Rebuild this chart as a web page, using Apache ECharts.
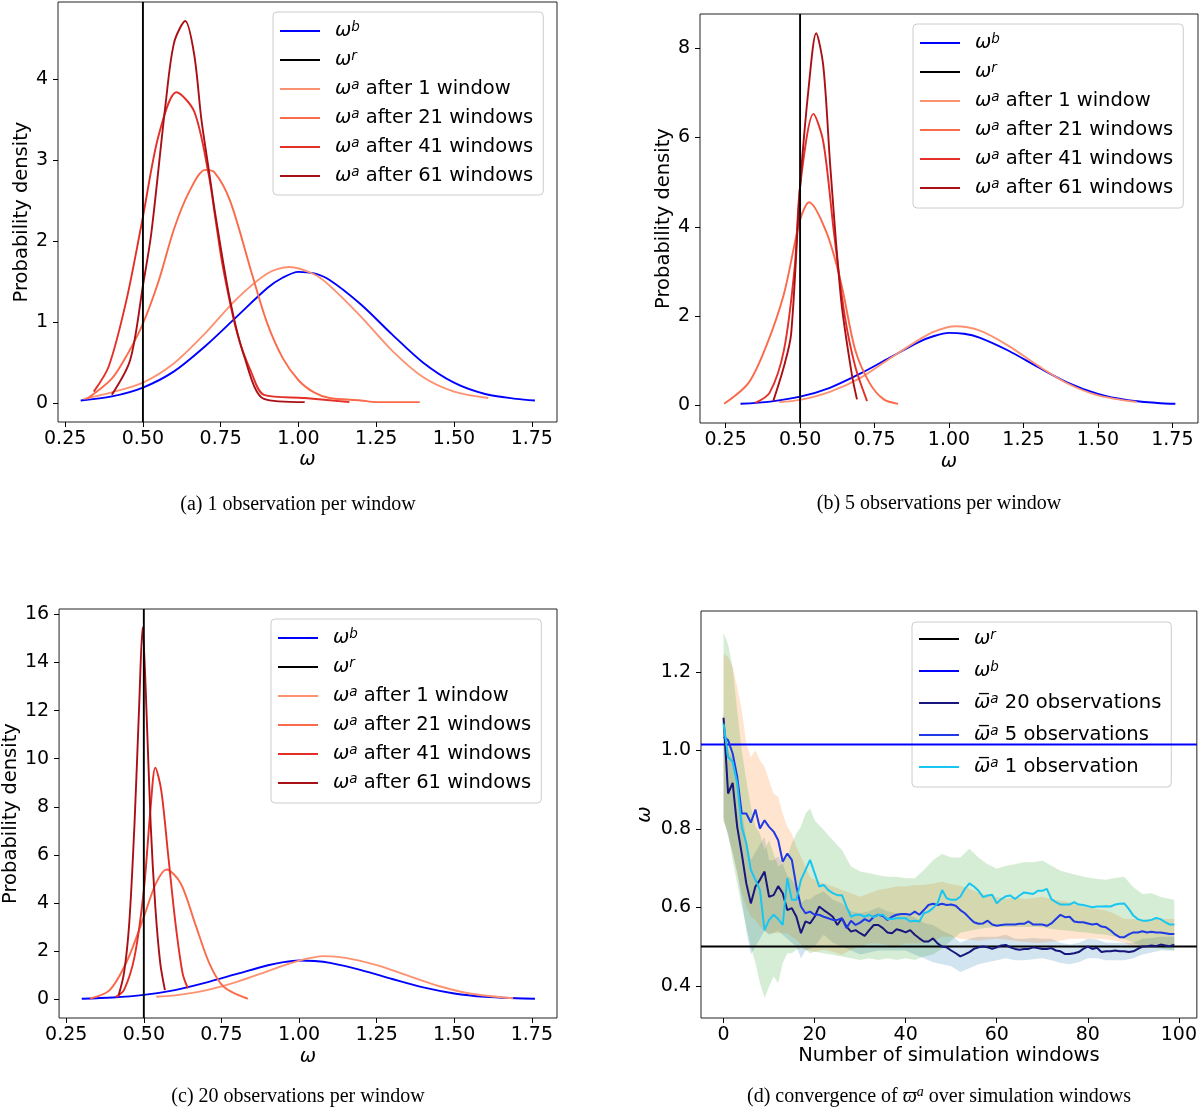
<!DOCTYPE html>
<html>
<head>
<meta charset="utf-8">
<script src="https://cdn.jsdelivr.net/npm/echarts@6/dist/echarts.min.js"></script>
<style>
  html, body { margin: 0; background: #fff; }
  #fig { width: 1200px; height: 1109px; }
</style>
</head>
<body>
<div id="fig"></div>
<script>
// values

const omegaRef = 0.5;      // true omega
const omegaPrior = 1.015;  // prior mean

// prior density (same in a, b, c)
const priorX = [0.30, 0.40, 0.50, 0.60, 0.70, 0.80, 0.90, 0.95, 1.00, 1.05, 1.10, 1.20, 1.30, 1.40, 1.50, 1.60, 1.70, 1.76];
const priorY = [0.03, 0.08, 0.19, 0.39, 0.70, 1.06, 1.42, 1.55, 1.62, 1.60, 1.52, 1.22, 0.85, 0.50, 0.25, 0.11, 0.05, 0.03];

// (a) 1 observation per window
const a1X  = [0.31, 0.40, 0.50, 0.60, 0.70, 0.80, 0.90, 0.97, 1.05, 1.10, 1.20, 1.30, 1.40, 1.50, 1.61];
const a1Y  = [0.05, 0.13, 0.25, 0.49, 0.86, 1.28, 1.60, 1.68, 1.59, 1.45, 1.07, 0.65, 0.32, 0.14, 0.06];
const a21X = [0.32, 0.40, 0.45, 0.50, 0.55, 0.60, 0.65, 0.70, 0.73, 0.78, 0.85, 0.90, 0.95, 1.00, 1.05, 1.10, 1.20, 1.25, 1.39];
const a21Y = [0.05, 0.30, 0.60, 0.98, 1.50, 2.15, 2.62, 2.88, 2.85, 2.50, 1.60, 0.98, 0.55, 0.28, 0.13, 0.06, 0.03, 0.01, 0.01];
const a41X = [0.342, 0.39, 0.447, 0.50, 0.55, 0.608, 0.665, 0.711, 0.734, 0.757, 0.803, 0.849, 0.889, 1.02, 1.164];
const a41Y = [0.14, 0.45, 1.27, 2.30, 3.30, 3.84, 3.60, 2.83, 2.25, 1.68, 0.86, 0.37, 0.10, 0.06, 0.01];
const a61X = [0.40, 0.459, 0.50, 0.527, 0.573, 0.60, 0.636, 0.665, 0.688, 0.711, 0.734, 0.78, 0.826, 0.889, 1.02];
const a61Y = [0.10, 0.53, 1.45, 2.10, 3.70, 4.45, 4.72, 4.30, 3.50, 2.90, 2.30, 1.27, 0.57, 0.05, 0.01];

// (b) 5 observations per window
const b1X  = [0.43, 0.50, 0.60, 0.70, 0.80, 0.90, 0.95, 1.02, 1.10, 1.20, 1.30, 1.40, 1.50, 1.63];
const b1Y  = [0.07, 0.12, 0.30, 0.60, 1.04, 1.47, 1.65, 1.77, 1.68, 1.33, 0.88, 0.48, 0.22, 0.07];
const b21X = [0.245, 0.327, 0.386, 0.446, 0.50, 0.53, 0.59, 0.638, 0.685, 0.733, 0.781, 0.829];
const b21Y = [0.03, 0.50, 1.32, 2.50, 4.15, 4.55, 3.85, 2.73, 1.24, 0.50, 0.13, 0.03];
const b41X = [0.35, 0.398, 0.446, 0.482, 0.50, 0.545, 0.578, 0.614, 0.65, 0.685, 0.725];
const b41Y = [0.05, 0.28, 1.24, 3.10, 4.90, 6.53, 5.90, 3.85, 2.00, 0.87, 0.09];
const b61X = [0.41, 0.446, 0.47, 0.50, 0.53, 0.554, 0.578, 0.602, 0.638, 0.673, 0.691];
const b61Y = [0.09, 0.87, 1.60, 4.90, 7.20, 8.34, 7.60, 5.30, 2.35, 0.72, 0.13];

// (c) 20 observations per window
const c1X  = [0.54, 0.60, 0.70, 0.80, 0.90, 1.00, 1.08, 1.15, 1.25, 1.35, 1.45, 1.55, 1.69];
const c1Y  = [0.11, 0.17, 0.38, 0.73, 1.18, 1.61, 1.80, 1.73, 1.43, 0.99, 0.56, 0.25, 0.05];
const c21X = [0.327, 0.39, 0.447, 0.50, 0.539, 0.573, 0.619, 0.665, 0.711, 0.757, 0.835];
const c21Y = [0.04, 0.39, 1.63, 3.43, 4.82, 5.40, 4.82, 3.16, 1.50, 0.53, 0.03];
const c41X = [0.41, 0.436, 0.47, 0.50, 0.522, 0.537, 0.556, 0.579, 0.602, 0.625, 0.642];
const c41Y = [0.11, 0.39, 1.77, 4.54, 8.00, 9.63, 8.70, 5.93, 3.16, 1.08, 0.46];
const c61X = [0.419, 0.436, 0.453, 0.47, 0.485, 0.496, 0.506, 0.522, 0.537, 0.553, 0.568];
const c61Y = [0.18, 1.08, 3.16, 7.30, 12.2, 15.45, 12.9, 7.30, 3.85, 1.50, 0.39];

// (d) mean analysis omega per window (windows 0..99)
const mean20 = [1.083,0.89,0.917,0.805,0.737,0.661,0.61,0.653,0.67,0.691,
  0.627,0.631,0.654,0.636,0.593,0.598,0.576,0.534,0.564,0.559,
  0.576,0.602,0.593,0.585,0.576,0.555,0.572,0.551,0.538,0.542,
  0.534,0.527,0.542,0.555,0.555,0.547,0.536,0.534,0.544,0.541,
  0.536,0.542,0.53,0.521,0.513,0.513,0.521,0.508,0.50,0.498,
  0.49,0.483,0.475,0.48,0.486,0.494,0.498,0.50,0.498,0.494,
  0.498,0.503,0.504,0.498,0.494,0.492,0.494,0.494,0.498,0.496,
  0.494,0.494,0.496,0.49,0.488,0.481,0.481,0.483,0.486,0.494,
  0.50,0.494,0.497,0.486,0.488,0.488,0.49,0.488,0.488,0.486,
  0.488,0.494,0.50,0.501,0.503,0.501,0.505,0.503,0.501,0.505];
const mean5 = [1.034,1.026,0.992,0.933,0.839,0.839,0.816,0.849,0.801,0.822,
  0.805,0.793,0.771,0.716,0.737,0.721,0.653,0.602,0.585,0.589,
  0.581,0.581,0.576,0.572,0.568,0.568,0.572,0.547,0.566,0.555,
  0.561,0.57,0.564,0.576,0.581,0.578,0.568,0.576,0.581,0.583,
  0.583,0.581,0.589,0.581,0.593,0.606,0.609,0.606,0.609,0.606,
  0.607,0.604,0.593,0.585,0.573,0.562,0.558,0.559,0.566,0.556,
  0.553,0.555,0.556,0.556,0.556,0.558,0.558,0.564,0.556,0.556,
  0.556,0.553,0.559,0.57,0.581,0.575,0.576,0.564,0.562,0.562,
  0.559,0.556,0.558,0.551,0.549,0.541,0.531,0.524,0.524,0.531,
  0.536,0.536,0.539,0.536,0.538,0.536,0.536,0.534,0.532,0.532];
const mean1 = [1.068,0.983,0.971,0.916,0.805,0.763,0.695,0.67,0.644,0.542,
  0.568,0.581,0.57,0.555,0.674,0.619,0.619,0.67,0.695,0.721,
  0.687,0.653,0.657,0.644,0.636,0.631,0.631,0.602,0.576,0.581,
  0.581,0.576,0.581,0.575,0.581,0.581,0.57,0.57,0.572,0.572,
  0.572,0.564,0.566,0.564,0.585,0.589,0.598,0.61,0.644,0.623,
  0.619,0.619,0.627,0.647,0.661,0.653,0.642,0.626,0.63,0.632,
  0.61,0.621,0.628,0.63,0.621,0.63,0.638,0.636,0.634,0.642,
  0.642,0.647,0.621,0.613,0.607,0.607,0.607,0.613,0.607,0.606,
  0.603,0.60,0.602,0.602,0.603,0.602,0.607,0.609,0.61,0.596,
  0.579,0.57,0.566,0.566,0.568,0.573,0.57,0.562,0.556,0.556];

// (d) spread bands
const bandX = [0,1,2,3,4,5,6,7,8,9,10,11,12,13,14,15,16,17,18,19,
  20,22,24,26,28,30,32,34,36,38,40,42,44,46,
  48,50,52,54,56,58,60,62,64,66,68,70,72,74,76,78,80,82,84,86,88,90,92,94,96,99];
const band1Hi = [1.30,1.27,1.21,1.10,1.00,0.924,0.856,0.805,0.788,0.746,0.771,0.737,0.704,0.712,0.729,0.763,0.788,0.805,0.839,0.852,
  0.822,0.797,0.771,0.746,0.704,0.691,0.687,0.682,0.678,0.678,0.674,0.674,0.695,0.72,
  0.736,0.727,0.727,0.749,0.727,0.71,0.698,0.706,0.71,0.715,0.715,0.719,0.706,0.693,0.687,0.681,0.676,0.672,0.67,0.675,0.678,0.651,0.634,0.636,0.626,0.619];
const band1Lo = [0.82,0.788,0.72,0.661,0.602,0.551,0.50,0.458,0.407,0.369,0.398,0.424,0.407,0.458,0.483,0.483,0.492,0.496,0.492,0.483,
  0.487,0.483,0.479,0.475,0.47,0.466,0.47,0.466,0.47,0.466,0.47,0.466,0.475,0.48,
  0.495,0.515,0.535,0.54,0.545,0.548,0.55,0.55,0.55,0.55,0.55,0.55,0.545,0.542,0.54,0.537,0.535,0.532,0.53,0.525,0.52,0.51,0.5,0.497,0.495,0.49];
const band5Hi = [1.246,1.238,1.212,1.162,1.102,1.017,0.983,1.0,0.975,0.958,0.924,0.89,0.882,0.839,0.805,0.788,0.754,0.729,0.704,0.678,
  0.67,0.661,0.653,0.644,0.636,0.627,0.636,0.644,0.648,0.653,0.653,0.657,0.657,0.661,
  0.665,0.659,0.655,0.647,0.638,0.63,0.626,0.621,0.626,0.621,0.624,0.627,0.621,0.617,0.613,0.604,0.6,0.596,0.592,0.583,0.57,0.57,0.568,0.57,0.57,0.57];
const band5Lo = [0.822,0.788,0.737,0.687,0.636,0.602,0.576,0.568,0.551,0.54,0.534,0.534,0.534,0.534,0.534,0.525,0.517,0.505,0.492,0.49,
  0.487,0.492,0.487,0.479,0.492,0.5,0.508,0.508,0.504,0.5,0.508,0.508,0.508,0.513,
  0.525,0.525,0.52,0.518,0.515,0.518,0.52,0.518,0.515,0.512,0.51,0.51,0.513,0.515,0.52,0.52,0.52,0.52,0.518,0.515,0.51,0.5,0.495,0.498,0.5,0.5];
const band20Hi = [1.10,1.0,0.98,0.92,0.85,0.77,0.72,0.74,0.76,0.78,0.72,0.72,0.73,0.71,0.68,0.67,0.65,0.61,0.62,0.62,
  0.63,0.64,0.62,0.61,0.59,0.585,0.59,0.6,0.59,0.585,0.58,0.575,0.56,0.555,
  0.54,0.53,0.51,0.52,0.525,0.525,0.525,0.53,0.52,0.52,0.522,0.52,0.52,0.51,0.505,0.51,0.52,0.518,0.51,0.51,0.51,0.51,0.52,0.522,0.525,0.525];
const band20Lo = [0.83,0.78,0.74,0.69,0.62,0.54,0.48,0.50,0.52,0.54,0.53,0.535,0.54,0.53,0.52,0.51,0.50,0.47,0.49,0.495,
  0.50,0.53,0.51,0.50,0.49,0.48,0.485,0.49,0.49,0.49,0.49,0.48,0.47,0.46,
  0.455,0.45,0.435,0.445,0.455,0.46,0.465,0.47,0.465,0.465,0.468,0.47,0.465,0.458,0.455,0.46,0.47,0.47,0.465,0.465,0.465,0.47,0.48,0.485,0.49,0.49];

// tick values
const omegaTicks = [0.25, 0.50, 0.75, 1.00, 1.25, 1.50, 1.75];
const densTicksA = [0, 1, 2, 3, 4];
const densTicksB = [0, 2, 4, 6, 8];
const densTicksC = [0, 2, 4, 6, 8, 10, 12, 14, 16];
const windowTicks = [0, 20, 40, 60, 80, 100];
const omegaTicksD = [0.4, 0.6, 0.8, 1.0, 1.2];

// ---------------------------------------------------------------

const COL = {
  wb: '#0000ff', wr: '#000000',
  a1: '#fc9272', a21: '#fb6a4a', a41: '#e32f27', a61: '#a91016',
  m20: '#16167c', m5: '#1f3ae4', m1: '#18c6f2'
};

const LABEL = {
  wb: '{w|ω}{s|b}',
  wr: '{w|ω}{s|r}',
  a1: '{w|ω}{s|a}{t| after 1 window}',
  a21: '{w|ω}{s|a}{t| after 21 windows}',
  a41: '{w|ω}{s|a}{t| after 41 windows}',
  a61: '{w|ω}{s|a}{t| after 61 windows}',
  m20: '{w|ω\u0305}{s|a}{t| 20 observations}',
  m5: '{w|ω\u0305}{s|a}{t| 5 observations}',
  m1: '{w|ω\u0305}{s|a}{t| 1 observation}'
};

const FONT = 'DejaVu Sans';
const FS = 19.5;
const LW = 1.9;
const RICH = {
  w: { fontFamily: FONT, fontStyle: 'italic', fontSize: FS, lineHeight: 22, padding: [0, 0, 0, 10], color: '#000' },
  s: { fontFamily: FONT, fontStyle: 'italic', fontSize: 13.5, lineHeight: 13, verticalAlign: 'top', color: '#000' },
  t: { fontFamily: FONT, fontSize: FS, lineHeight: 22, color: '#000' }
};

const pairs = (xs, ys) => xs.map((x, i) => [x, ys[i]]);

function xAx(gi, min, max, ticks, fmt, name, gap) {
  return {
    type: 'value', gridIndex: gi, min: min, max: max,
    name: name, nameLocation: 'middle', nameGap: gap,
    nameTextStyle: { fontFamily: FONT, fontSize: FS, fontStyle: name === 'ω' ? 'italic' : 'normal', color: '#000' },
    axisLine: { show: false, onZero: false },
    axisTick: { show: true, length: 5, customValues: ticks, lineStyle: { color: '#000', width: 1 } },
    axisLabel: { customValues: ticks, formatter: fmt, margin: 8, fontFamily: FONT, fontSize: 19, color: '#000' },
    splitLine: { show: false }
  };
}

function yAx(gi, min, max, ticks, fmt, name, gap) {
  const ax = xAx(gi, min, max, ticks, fmt, name, gap);
  ax.axisLabel.margin = 10;
  return ax;
}

function curve(name, gi, xs, ys) {
  return {
    type: 'line', name: name, xAxisIndex: gi, yAxisIndex: gi,
    data: pairs(xs, ys), smooth: 0.3, symbol: 'none', z: 3,
    lineStyle: { color: COL[name], width: LW }, itemStyle: { color: COL[name] }
  };
}

function vline(gi, ymin, ymax) {
  return {
    type: 'line', name: 'wr', xAxisIndex: gi, yAxisIndex: gi,
    data: [[omegaRef, ymin], [omegaRef, ymax]], symbol: 'none', z: 4,
    lineStyle: { color: COL.wr, width: LW }, itemStyle: { color: COL.wr }
  };
}

// filled spread band drawn as one polygon through the cartesian coords
function band(lo, hi, fill) {
  return {
    type: 'custom', xAxisIndex: 3, yAxisIndex: 3, z: 1, silent: true, clip: true,
    data: bandX.map((x, i) => [x, lo[i], hi[i]]),
    encode: { x: 0, y: [1, 2] },
    renderItem: function (params, api) {
      if (params.dataIndex !== 0) return null;
      const top = bandX.map((x, i) => api.coord([x, hi[i]]));
      const bot = bandX.map((x, i) => api.coord([x, lo[i]])).reverse();
      return { type: 'polygon', shape: { points: top.concat(bot) }, style: { fill: fill } };
    }
  };
}

function legend(names, left, top, pad, gap) {
  return {
    orient: 'vertical', left: left, top: top, data: names,
    icon: 'rect', itemWidth: 40, itemHeight: 2, itemGap: gap, padding: pad,
    backgroundColor: 'rgba(255,255,255,0.8)', borderColor: '#cccccc', borderWidth: 1, borderRadius: 4,
    itemStyle: { borderWidth: 0 }, selectedMode: false,
    formatter: n => LABEL[n],
    textStyle: { fontFamily: FONT, fontSize: FS, lineHeight: 22, color: '#000', rich: RICH }
  };
}

const f2 = v => v.toFixed(2);
const f0 = v => String(v);
const f1 = v => v.toFixed(1);

const yA = [-0.236, 4.955], yB = [-0.40, 8.77], yC = [-0.77, 16.22], yD = [0.318, 1.355];
const xW = [-4.95, 103.95];
const densNames = ['wb', 'wr', 'a1', 'a21', 'a41', 'a61'];
const gridBox = { show: true, borderColor: '#222', borderWidth: 1, backgroundColor: 'transparent' };

const series = [
  curve('wb', 0, priorX, priorY), vline(0, yA[0], yA[1]),
  curve('a1', 0, a1X, a1Y), curve('a21', 0, a21X, a21Y), curve('a41', 0, a41X, a41Y), curve('a61', 0, a61X, a61Y),

  curve('wb', 1, priorX, priorY), vline(1, yB[0], yB[1]),
  curve('a1', 1, b1X, b1Y), curve('a21', 1, b21X, b21Y), curve('a41', 1, b41X, b41Y), curve('a61', 1, b61X, b61Y),

  curve('wb', 2, priorX, priorY), vline(2, yC[0], yC[1]),
  curve('a1', 2, c1X, c1Y), curve('a21', 2, c21X, c21Y), curve('a41', 2, c41X, c41Y), curve('a61', 2, c61X, c61Y),

  band(band20Lo, band20Hi, 'rgba(31,119,180,0.2)'),
  band(band5Lo, band5Hi, 'rgba(255,127,14,0.2)'),
  band(band1Lo, band1Hi, 'rgba(44,160,44,0.2)'),

  { type: 'line', name: 'wr', xAxisIndex: 3, yAxisIndex: 3, data: [[xW[0], omegaRef], [xW[1], omegaRef]], symbol: 'none', z: 4,
    lineStyle: { color: COL.wr, width: LW }, itemStyle: { color: COL.wr } },
  { type: 'line', name: 'wb', xAxisIndex: 3, yAxisIndex: 3, data: [[xW[0], omegaPrior], [xW[1], omegaPrior]], symbol: 'none', z: 4,
    lineStyle: { color: COL.wb, width: LW }, itemStyle: { color: COL.wb } }
].concat(
  [['m20', mean20], ['m5', mean5], ['m1', mean1]].map(([n, arr]) => ({
    type: 'line', name: n, xAxisIndex: 3, yAxisIndex: 3,
    data: arr.map((v, i) => [i, v]), symbol: 'none', z: 5,
    lineStyle: { color: COL[n], width: 2 }, itemStyle: { color: COL[n] }
  }))
);

const capStyle = { fontFamily: 'Liberation Serif', fontSize: 20, fill: '#000', align: 'center', verticalAlign: 'middle' };

const option = {
  animation: false,
  backgroundColor: '#fff',
  grid: [
    Object.assign({ left: 58, top: 2, width: 499, height: 420 }, gridBox),
    Object.assign({ left: 700, top: 14, width: 498, height: 409 }, gridBox),
    Object.assign({ left: 58, top: 609, width: 499, height: 409 }, gridBox),
    Object.assign({ left: 701, top: 611, width: 497, height: 407 }, gridBox)
  ],
  xAxis: [
    xAx(0, 0.227, 1.831, omegaTicks, f2, 'ω', 28),
    xAx(1, 0.164, 1.836, omegaTicks, f2, 'ω', 29),
    xAx(2, 0.227, 1.831, omegaTicks, f2, 'ω', 29),
    xAx(3, xW[0], xW[1], windowTicks, f0, 'Number of simulation windows', 27)
  ],
  yAxis: [
    yAx(0, yA[0], yA[1], densTicksA, f0, 'Probability density', 24),
    yAx(1, yB[0], yB[1], densTicksB, f0, 'Probability density', 24),
    yAx(2, yC[0], yC[1], densTicksC, f0, 'Probability density', 38),
    yAx(3, yD[0], yD[1], omegaTicksD, f1, 'ω', 46)
  ],
  legend: [
    legend(densNames, 273, 12, [8, 10, 8, 7], 7),
    legend(densNames, 913, 24, [8, 10, 9, 7], 7),
    legend(densNames, 271, 619, [8, 10, 9, 7], 7),
    legend(['wr', 'wb', 'm20', 'm5', 'm1'], 912, 622, [6, 10, 9, 7], 10)
  ],
  graphic: [
    { type: 'text', x: 298, y: 505, style: Object.assign({ text: '(a) 1 observation per window' }, capStyle) },
    { type: 'text', x: 939, y: 504, style: Object.assign({ text: '(b) 5 observations per window' }, capStyle) },
    { type: 'text', x: 298, y: 1097, style: Object.assign({ text: '(c) 20 observations per window' }, capStyle) },
    { type: 'text', x: 939, y: 1097, style: Object.assign({
        text: '{t|(d) convergence of }{w|ϖ}{s|a}{t| over simulation windows}',
        rich: {
          t: { fontFamily: 'Liberation Serif', fontSize: 20, lineHeight: 24 },
          w: { fontFamily: 'Liberation Serif', fontStyle: 'italic', fontSize: 20, lineHeight: 24 },
          s: { fontFamily: 'Liberation Serif', fontStyle: 'italic', fontSize: 14, lineHeight: 14, verticalAlign: 'top' }
        }
      }, capStyle) }
  ],
  series: series
};

const chart = echarts.init(document.getElementById('fig'), null, { renderer: 'canvas' });
chart.setOption(option);
</script>
</body>
</html>
